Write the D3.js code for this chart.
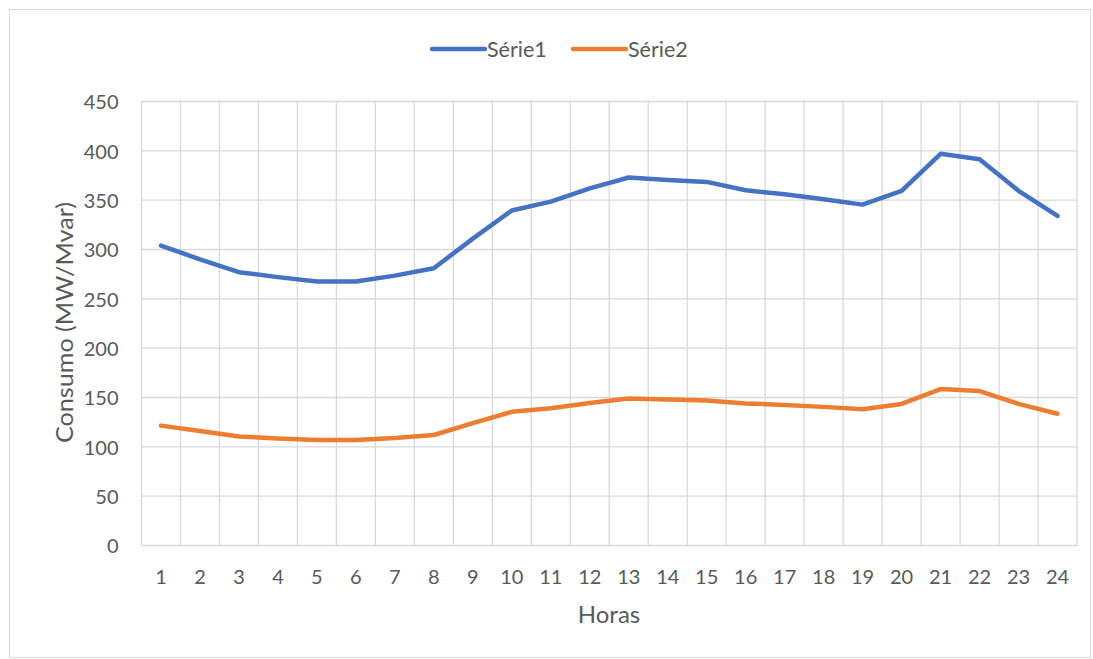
<!DOCTYPE html>
<html><head><meta charset="utf-8">
<script src="https://cdn.jsdelivr.net/npm/d3@7"></script>
<style>
html,body{margin:0;padding:0;background:#fff;}
svg{display:block;font-family:Lato,"Open Sans",sans-serif;}
</style></head>
<body>
<svg id="chart" width="1093" height="659"></svg>
<script>
const hours = ["1","2","3","4","5","6","7","8","9","10","11","12","13","14","15","16","17","18","19","20","21","22","23","24"];
const serie1 = [304,290,277,272,267.5,267.5,273.5,281,311,339.5,348.5,362,373,370.5,368.5,360,356,351,345.5,359.5,397,391.5,359.5,334];
const serie2 = [121.5,116,110.5,108.5,107,107,109,112,124,135.5,139,144.5,149,148,147,144,142.5,140.5,138,143.5,158.5,156.5,143.5,133.5];
const yTicks = [0,50,100,150,200,250,300,350,400,450];
const seriesNames = ["Série1","Série2"];
const colors = ["#4472C4","#ED7D31"];

const svg = d3.select("#chart");
const m = {left:141.5, right:1077, top:101.5, bottom:545.5};

svg.append("rect").attr("x",9.5).attr("y",9.5).attr("width",1081).attr("height",648)
  .attr("fill","#fff").attr("stroke","#d9d9d9").attr("stroke-width",1);

const x = d3.scaleBand().domain(hours).range([m.left,m.right]).paddingInner(0).paddingOuter(0);
const y = d3.scaleLinear().domain([0,450]).range([m.bottom,m.top]);

// horizontal grid
svg.append("g").selectAll("line").data(yTicks).join("line")
  .attr("x1",m.left).attr("x2",m.right)
  .attr("y1",d=>y(d)).attr("y2",d=>y(d))
  .attr("stroke","#d9d9d9").attr("stroke-width",1.3);
// vertical grid (category boundaries)
const bounds = hours.map(h=>x(h)).concat([m.right]);
svg.append("g").selectAll("line").data(bounds).join("line")
  .attr("x1",d=>d).attr("x2",d=>d)
  .attr("y1",m.top).attr("y2",m.bottom)
  .attr("stroke","#d9d9d9").attr("stroke-width",1.3);

// y axis labels
const yAxis = d3.axisLeft(y).tickValues(yTicks).tickSize(0).tickPadding(0);
const gy = svg.append("g").attr("transform",`translate(118.5,0)`).call(yAxis);
gy.select(".domain").remove();
gy.selectAll("text").attr("fill","#595959").attr("dy","0.36em")
  .style("font-size","20px").style("font-family","Lato, sans-serif");

// x axis labels
const xAxis = d3.axisBottom(x).tickSize(0).tickPadding(0);
const gx = svg.append("g").attr("transform",`translate(0,584)`).call(xAxis);
gx.select(".domain").remove();
gx.selectAll("text").attr("fill","#595959").attr("dy","0").attr("y",0)
  .style("font-size","20px").style("font-family","Lato, sans-serif");

// axis titles
svg.append("text").attr("x",609).attr("y",623).attr("text-anchor","middle")
  .attr("fill","#595959").style("font-size","24px").text("Horas");
svg.append("text").attr("transform","translate(72.5,322.5) rotate(-90)").attr("text-anchor","middle")
  .attr("fill","#595959").style("font-size","23px")
  .attr("textLength",241).attr("lengthAdjust","spacingAndGlyphs")
  .text("Consumo (MW/Mvar)");

// lines
const line = d3.line().x((d,i)=>x(hours[i])+x.bandwidth()/2).y(d=>y(d));
[serie1,serie2].forEach((s,i)=>{
  svg.append("path").datum(s).attr("d",line).attr("fill","none")
    .attr("stroke",colors[i]).attr("stroke-width",4.5)
    .attr("stroke-linejoin","round").attr("stroke-linecap","round");
});

// legend
const leg = [{x0:432,x1:485,tx:487},{x0:573,x1:626,tx:628}];
seriesNames.forEach((n,i)=>{
  svg.append("line").attr("x1",leg[i].x0).attr("x2",leg[i].x1).attr("y1",49).attr("y2",49)
    .attr("stroke",colors[i]).attr("stroke-width",4.5).attr("stroke-linecap","round");
  svg.append("text").attr("x",leg[i].tx).attr("y",57).attr("fill","#595959")
    .style("font-size","21.5px").text(n);
});
</script>
</body></html>
